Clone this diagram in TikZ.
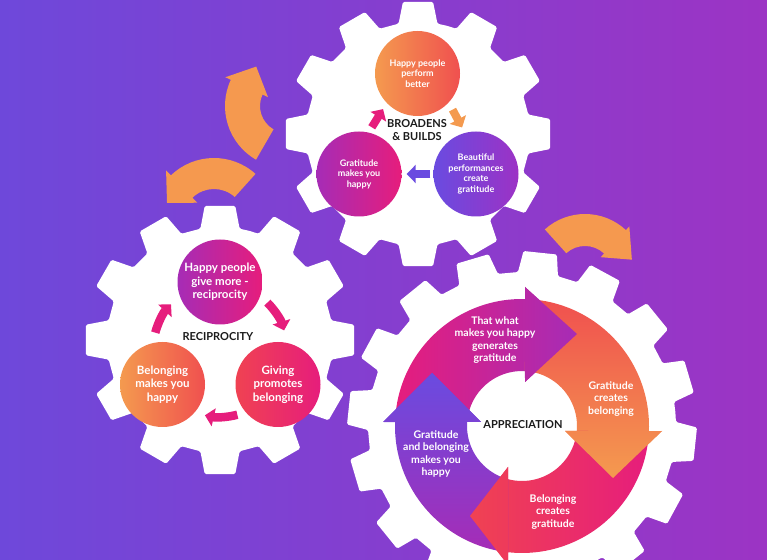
\documentclass[tikz,border=0pt]{standalone}
\usepackage{fontspec}
\setmainfont{Lato}
\usetikzlibrary{arrows.meta}

\definecolor{bgleft}{RGB}{110,72,218}
\definecolor{bgright}{RGB}{156,52,196}
\definecolor{gorange}{RGB}{244,154,79}
\definecolor{gcoral}{RGB}{240,80,79}
\definecolor{gred}{RGB}{240,66,82}
\definecolor{gpink}{RGB}{230,29,124}
\definecolor{gpurple}{RGB}{166,44,182}
\definecolor{gviolet}{RGB}{106,75,224}
\definecolor{gviolet2}{RGB}{156,50,197}
\definecolor{arrorange}{RGB}{245,153,79}
\definecolor{hubtext}{RGB}{27,27,27}

% gear: x, y, teeth, tip radius, root radius, phase, tip half angle, root half angle
\newcommand{\gear}[8]{%
  \fill[white,rounded corners=1.5pt,shift={(#1,#2)}] ({#6-180/#3}:#5)
    \foreach \k in {1,...,#3}{
      -- ({#6+(\k-1)*360/#3-#8}:#5) -- ({#6+(\k-1)*360/#3-#7}:#4)
      -- ({#6+(\k-1)*360/#3+#7}:#4) -- ({#6+(\k-1)*360/#3+#8}:#5)
    } -- cycle;}

% bent arrow: x, y, inner r, outer r, start, end, tip angle, tip radius, barb
\newcommand{\bentarrow}[9]{%
  \fill[arrorange,shift={(#1,#2)}] (#5:#4) arc[start angle=#5,end angle=#6,radius=#4]
    -- (#6:{#4+#9}) -- (#7:#8) -- (#6:{#3-#9}) -- (#6:#3)
    arc[start angle=#6,end angle=#5,radius=#3] -- cycle;}

\begin{document}
\begin{tikzpicture}[x=1pt,y=1pt,
  bubble/.style={circle,inner sep=0pt,minimum size=85pt,text=white,align=center},
  smalltext/.style={font=\fontsize{9}{10.5}\selectfont\bfseries},
  bigtext/.style={font=\fontsize{11.5}{13.5}\selectfont\bfseries},
  ringtext/.style={text=white,align=center,font=\fontsize{10.5}{12.5}\selectfont\bfseries},
  hub/.style={text=hubtext,align=center,font=\fontsize{11}{13.5}\selectfont\bfseries},
  flow/.style={line width=8pt,-{Triangle[width=18pt,length=9pt]}},
  turn/.style={draw=gpink,line width=8.5pt,-{Triangle[width=18pt,length=9pt]}}]

\useasboundingbox (0,0) rectangle (767,559);
\clip (0,0) rectangle (767,559);
\shade[left color=bgleft,right color=bgright] (0,0) rectangle (767,559);

% ---------------- gears ----------------
\gear{418}{425}{12}{133}{112}{90}{6.5}{10}
\gear{220}{219}{12}{135}{113}{90}{6.5}{10}
\gear{522}{133}{16}{175}{154}{16.5}{5.5}{7.5}

% ---------------- turning arrows ----------------
\bentarrow{287}{453}{27}{62}{240}{155}{128}{50}{6}
\bentarrow{214}{339}{31}{62}{48}{134}{160}{50}{7}
\bentarrow{585}{285}{28}{60}{132}{47}{17}{49}{5}

% ---------------- broadens & builds ----------------
\node[bubble,smalltext,left color=gorange,right color=gcoral] (hpb) at (417.5,485.5) {Happy people\\perform\\better};
\node[bubble,smalltext,left color=gpurple,right color=gpink] (gmh) at (359,385) {Gratitude\\makes you\\happy};
\node[bubble,smalltext,left color=gviolet,right color=gviolet2] (bpc) at (476,385) {Beautiful\\performances\\create\\gratitude};
\node[hub] (bb) at (417,429) {BROADENS\\\& BUILDS};

\draw[flow,gpink,shorten <=6pt,shorten >=7pt] (gmh.77) -- (hpb.224);
\draw[flow,gorange,shorten <=8pt,shorten >=6pt] (hpb.-43) -- (bpc.105);
\draw[flow,gviolet,shorten <=3pt,shorten >=5pt] (bpc.180) -- (gmh.0);

% ---------------- reciprocity ----------------
\node[bubble,bigtext,left color=gpurple,right color=gpink] (hpg) at (220,277) {Happy people\\give more -\\reciprocity};
\node[bubble,bigtext,left color=gorange,right color=gcoral] (bmh) at (162.5,174.5) {Belonging\\makes you\\happy};
\node[bubble,bigtext,left color=gred,right color=gpink] (gpb) at (278,174.5) {Giving\\promotes\\belonging};
\node[hub] (rec) at (218,222) {RECIPROCITY};

\begin{scope}[shift={(220,209)}]
\draw[turn] (165:67) arc[start angle=165,end angle=137,radius=67];
\draw[turn] (45:67) arc[start angle=45,end angle=17,radius=67];
\draw[turn] (-75:67) arc[start angle=-75,end angle=-103,radius=67];
\end{scope}

% ---------------- appreciation ----------------
\begin{scope}[shift={(522,133)}]
\def\arrowone{(178.2:127) arc[start angle=178.2,end angle=88.6,radius=127] -- (3,139) -- (55,92) -- (3,44) -- (86.9:55) arc[start angle=86.9,end angle=175.8,radius=55] -- cycle}
\def\arrowtwo{(88.6:127) arc[start angle=88.6,end angle=-2.3,radius=127] -- (140,-5) -- (91,-52) -- (43,-5) -- (-5.2:55) arc[start angle=-5.2,end angle=86.9,radius=55] -- cycle}
\def\arrowthree{(-2.3:127) arc[start angle=-2.3,end angle=-96.3,radius=127] -- (-14,-139) -- (-52,-90) -- (-14,-41) -- (-104.7:55) arc[start angle=-104.7,end angle=-5.2,radius=55] -- cycle}
\def\arrowfour{(263.7:127) arc[start angle=263.7,end angle=178.2,radius=127] -- (-139,4) -- (-90,53) -- (-41,4) -- (175.8:55) arc[start angle=175.8,end angle=255.3,radius=55] -- cycle}
\shade[left color=gpink,right color=gpurple] \arrowone;
\shade[top color=gcoral,bottom color=gorange] \arrowtwo;
\shade[left color=gred,right color=gpink] \arrowthree;
\shade[top color=gviolet,bottom color=gpurple] \arrowfour;
% heads on top
\begin{scope}
\clip (3,139) -- (55,92) -- (3,44) -- cycle;
\shade[left color=gpink,right color=gpurple] \arrowone;
\end{scope}
\begin{scope}
\clip (140,-5) -- (91,-52) -- (43,-5) -- cycle;
\shade[top color=gcoral,bottom color=gorange] \arrowtwo;
\end{scope}
\begin{scope}
\clip (-14,-139) -- (-52,-90) -- (-14,-41) -- cycle;
\shade[left color=gred,right color=gpink] \arrowthree;
\end{scope}
\begin{scope}
\clip (-139,4) -- (-90,53) -- (-41,4) -- cycle;
\shade[top color=gviolet,bottom color=gpurple] \arrowfour;
\end{scope}
\end{scope}

\node[ringtext] (ta) at (495,219) {That what\\makes you happy\\generates\\gratitude};
\node[ringtext] (tb) at (611,160) {Gratitude\\creates\\belonging};
\node[ringtext] (tc) at (553,47) {Belonging\\creates\\gratitude};
\node[ringtext] (td) at (436,105) {Gratitude\\and belonging\\makes you\\happy};
\node[hub] (app) at (523,134) {APPRECIATION};

\end{tikzpicture}
\end{document}
